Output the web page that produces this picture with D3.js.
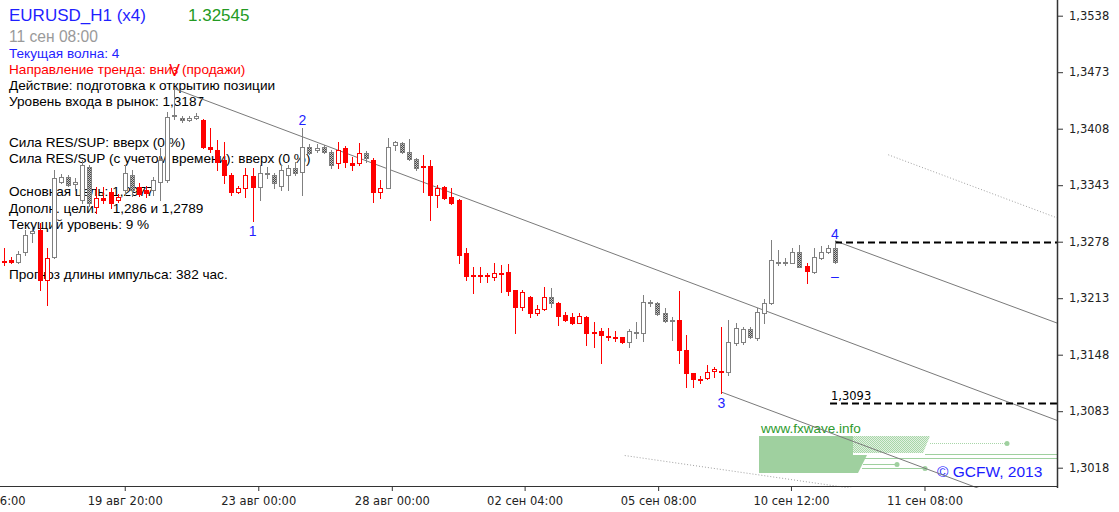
<!DOCTYPE html>
<html>
<head>
<meta charset="utf-8">
<script src="https://cdn.jsdelivr.net/npm/d3@7"></script>
<style>
  body { margin: 0; background: #fff; }
  svg { display: block; font-family: Arial, "Liberation Sans", sans-serif; }
  .axis text { font-family: "DejaVu Sans", sans-serif; font-size: 11.5px; fill: #222; }
  .axis line { stroke: #333; }
</style>
</head>
<body>
<svg id="chart" width="1119" height="512"></svg>
<script>
// EURUSD 4h bars (bar index 0..117)
const opens = [1.3256,1.3257,1.3255,1.3266,1.3288,1.3292,1.3234,1.3260,1.3347,1.3353,
  1.3344,1.3326,1.3364,1.3318,1.3328,1.3335,1.3326,1.3338,1.3355,1.3341,
  1.3338,1.3338,1.3347,1.3349,1.3423,1.3420,1.3418,1.3420,1.3418,1.3387,
  1.3384,1.3372,1.3355,1.3335,1.3340,1.3354,1.3341,1.3356,1.3355,1.3342,
  1.3355,1.3363,1.3358,1.3387,1.3384,1.3387,1.3381,1.3369,1.3386,1.3369,
  1.3369,1.3380,1.3372,1.3335,1.3340,1.3389,1.3392,1.3381,1.3373,1.3365,
  1.3365,1.3332,1.3341,1.3330,1.3326,1.3265,1.3240,1.3240,1.3240,1.3237,
  1.3242,1.3243,1.3222,1.3203,1.3214,1.3196,1.3201,1.3214,1.3208,1.3194,
  1.3191,1.3185,1.3191,1.3174,1.3175,1.3170,1.3168,1.3168,1.3163,1.3173,
  1.3173,1.3208,1.3208,1.3196,1.3188,1.3188,1.3153,1.3127,1.3120,1.3121,
  1.3129,1.3129,1.3128,1.3162,1.3163,1.3177,1.3167,1.3196,1.3208,1.3254,
  1.3254,1.3254,1.3266,1.3250,1.3243,1.3259,1.3266,1.3271];
const highs = [1.3271,1.3260,1.3267,1.3292,1.3295,1.3300,1.3271,1.3361,1.3356,1.3355,
  1.3351,1.3372,1.3366,1.3341,1.3341,1.3340,1.3333,1.3366,1.3361,1.3346,
  1.3342,1.3353,1.3386,1.3427,1.3454,1.3423,1.3423,1.3426,1.3419,1.3409,
  1.3395,1.3393,1.3357,1.3342,1.3363,1.3363,1.3366,1.3364,1.3357,1.3366,
  1.3366,1.3370,1.3409,1.3390,1.3390,1.3389,1.3384,1.3393,1.3388,1.3376,
  1.3392,1.3382,1.3374,1.3349,1.3397,1.3394,1.3393,1.3396,1.3374,1.3378,
  1.3372,1.3343,1.3342,1.3340,1.3327,1.3271,1.3249,1.3249,1.3242,1.3254,
  1.3251,1.3252,1.3222,1.3222,1.3216,1.3205,1.3226,1.3225,1.3209,1.3197,
  1.3196,1.3196,1.3193,1.3186,1.3179,1.3179,1.3175,1.3168,1.3178,1.3186,
  1.3217,1.3211,1.3209,1.3202,1.3191,1.3221,1.3171,1.3127,1.3124,1.3136,
  1.3134,1.3180,1.3188,1.3184,1.3180,1.3180,1.3202,1.3212,1.3280,1.3269,
  1.3259,1.3271,1.3274,1.3254,1.3271,1.3273,1.3274,1.3278];
const lows = [1.3251,1.3254,1.3254,1.3263,1.3278,1.3223,1.3205,1.3259,1.3346,1.3342,
  1.3338,1.3323,1.3319,1.3311,1.3323,1.3317,1.3324,1.3332,1.3331,1.3331,
  1.3330,1.3332,1.3326,1.3347,1.3419,1.3416,1.3417,1.3419,1.3386,1.3381,
  1.3361,1.3346,1.3332,1.3334,1.3330,1.3302,1.3326,1.3351,1.3340,1.3338,
  1.3338,1.3355,1.3332,1.3379,1.3381,1.3380,1.3363,1.3363,1.3364,1.3361,
  1.3366,1.3370,1.3324,1.3328,1.3340,1.3384,1.3380,1.3372,1.3361,1.3335,
  1.3303,1.3318,1.3327,1.3321,1.3254,1.3234,1.3219,1.3232,1.3232,1.3234,
  1.3220,1.3217,1.3173,1.3199,1.3191,1.3194,1.3199,1.3203,1.3182,1.3187,
  1.3183,1.3185,1.3159,1.3157,1.3139,1.3165,1.3164,1.3162,1.3157,1.3167,
  1.3164,1.3204,1.3194,1.3186,1.3165,1.3139,1.3111,1.3111,1.3116,1.3120,
  1.3122,1.3104,1.3125,1.3159,1.3160,1.3167,1.3165,1.3185,1.3206,1.3251,
  1.3251,1.3254,1.3249,1.3231,1.3242,1.3258,1.3265,1.3254];
const closes = [1.3255,1.3255,1.3264,1.3286,1.3290,1.3234,1.3259,1.3351,1.3353,1.3343,
  1.3347,1.3366,1.3323,1.3328,1.3326,1.3323,1.3330,1.3357,1.3338,1.3333,
  1.3334,1.3349,1.3372,1.3421,1.3424,1.3418,1.3420,1.3423,1.3387,1.3385,
  1.3370,1.3355,1.3335,1.3340,1.3355,1.3341,1.3357,1.3357,1.3346,1.3360,
  1.3363,1.3357,1.3387,1.3380,1.3386,1.3381,1.3366,1.3384,1.3370,1.3366,
  1.3380,1.3374,1.3335,1.3340,1.3387,1.3393,1.3381,1.3373,1.3363,1.3364,
  1.3332,1.3340,1.3328,1.3323,1.3263,1.3239,1.3239,1.3239,1.3239,1.3242,
  1.3241,1.3221,1.3203,1.3220,1.3196,1.3201,1.3214,1.3208,1.3193,1.3188,
  1.3185,1.3193,1.3173,1.3173,1.3171,1.3168,1.3167,1.3163,1.3175,1.3174,
  1.3209,1.3209,1.3195,1.3187,1.3187,1.3153,1.3127,1.3120,1.3119,1.3128,
  1.3132,1.3128,1.3163,1.3179,1.3177,1.3168,1.3197,1.3208,1.3257,1.3255,
  1.3255,1.3266,1.3249,1.3244,1.3260,1.3266,1.3271,1.3255];
// 1 = bar painted as sell (red), 0 = neutral (gray)
const sellSignal = [1,1,0,0,0,1,1,0,0,0, 0,0,0,1,1,1,1,0,0,1, 1,0,0,0,0,0,0,0,1,1,
  1,1,1,1,1,1,0,0,0,0, 0,0,0,0,0,0,0,1,1,1, 1,0,1,1,0,0,0,0,0,1,
  1,1,1,1,1,1,1,1,1,1, 1,1,1,1,1,1,1,0,1,1, 1,1,1,1,1,1,1,1,0,0,
  0,0,0,0,0,1,1,1,1,1, 1,1,0,0,0,0,0,0,0,0, 0,0,0,1,0,0,0,0];

// axes
const priceTicks = [1.3538,1.3473,1.3408,1.3343,1.3278,1.3213,1.3148,1.3083,1.3018];
const timeTickBars = [-2.3,17,35.8,54.6,73.3,92.1,110.8,129.6];
const timeLabels = ["16 авг 16:00","19 авг 20:00","23 авг 00:00","28 авг 00:00",
  "02 сен 04:00","05 сен 08:00","10 сен 12:00","11 сен 08:00"];

// wave marks
const waveBars = [24,35,42,101,117];
const waveNames = ["V","1","2","3","4"];
const waveAt = ["high","low","high","low","high"];

// channel lines: [bar, price] pairs
const lineFromV = [[24,1.3454],[148.4,1.3072]];
const lineFrom4 = [[117,1.3279],[148.4,1.3184]];
const lineFrom3 = [[101,1.3105],[148.4,1.2960]];
const dotUpper = [[124.5,1.3378],[148.4,1.3305]];
const dotLower = [[87.4,1.3032],[148.4,1.2960]];

// levels
const waveLevel = {bar: 117, price: 1.3278};
const targetLevel = {bar: 116.3, price: 1.3093};

const symbolName = "EURUSD_H1 (x4)";
const lastPrice = "1.32545";
const barTime = "11 сен 08:00";
const infoLines = [
  "Текущая волна: 4",
  "Направление тренда: вниз (продажи)",
  "Действие: подготовка к открытию позиции",
  "Уровень входа в рынок: 1,3187",
  "Сила RES/SUP: вверх (0 %)",
  "Сила RES/SUP (с учетом времени): вверх (0 %)",
  "Основная цель: 1,2977",
  "Дополн. цели:    1,286 и 1,2789",
  "Текущий уровень: 9 %",
  "Прогноз длины импульса: 382 час."
];

const W = 1119, H = 512;
const plotRight = 1057, plotBottom = 486;

const svg = d3.select("#chart");

const x = d3.scaleLinear().domain([0, 117]).range([4, 835]);
const y = d3.scaleLinear().domain([1.3018, 1.3538]).range([467.7, 15.7]);

const defs = svg.append("defs");
defs.append("clipPath").attr("id", "plot")
  .append("rect").attr("x", 0).attr("y", 0).attr("width", plotRight).attr("height", plotBottom + 2);

let hatch = defs.append("pattern").attr("id", "hatch")
  .attr("width", 2).attr("height", 2).attr("patternUnits", "userSpaceOnUse");
hatch.append("rect").attr("width", 2).attr("height", 2).attr("fill", "#c4c4c4");
hatch.append("rect").attr("width", 1).attr("height", 1).attr("fill", "#4a4a4a");
hatch.append("rect").attr("x", 1).attr("y", 1).attr("width", 1).attr("height", 1).attr("fill", "#4a4a4a");

let light = defs.append("pattern").attr("id", "lightHatch")
  .attr("width", 2).attr("height", 2).attr("patternUnits", "userSpaceOnUse");
light.append("rect").attr("width", 2).attr("height", 2).attr("fill", "#e2f1e2");
light.append("rect").attr("width", 1).attr("height", 1).attr("fill", "#a8d6a8");
light.append("rect").attr("x", 1).attr("y", 1).attr("width", 1).attr("height", 1).attr("fill", "#a8d6a8");

// info text (drawn first, candles go over it like in the terminal)
const info = svg.append("g").attr("class", "info");
info.append("text").attr("x", 9).attr("y", 21).attr("font-size", 17)
  .attr("fill", "#1f1fff").text(symbolName);
info.append("text").attr("x", 188).attr("y", 21).attr("font-size", 17)
  .attr("fill", "#239a23").text(lastPrice);
info.append("text").attr("x", 9).attr("y", 42).attr("font-size", 15.6)
  .attr("fill", "#9a9a9a").text(barTime);

const infoY = [57.5, 73.5, 90, 106, 146.5, 163, 196, 212.5, 229, 279];
const infoColor = ["#1f1fff", "#ff0000", "#000", "#000", "#000", "#000", "#000", "#000", "#000", "#000"];
info.selectAll(".line")
  .data(infoLines).enter()
  .append("text")
  .attr("class", "line")
  .attr("x", 9)
  .attr("y", (d, i) => infoY[i])
  .attr("font-size", 13.6)
  .attr("fill", (d, i) => infoColor[i])
  .style("white-space", "pre")
  .attr("xml:space", "preserve")
  .text(d => d);

// watermark
const wm = svg.append("g").attr("class", "watermark");
wm.append("polygon")
  .attr("points", "759,436 853,436 853,455 867,455 858,473 759,473")
  .attr("fill", "#9fd09f");
wm.append("polygon")
  .attr("points", "853,436 930,436 923,453 853,453")
  .attr("fill", "url(#lightHatch)");
wm.append("line").attr("x1", 930).attr("x2", 1007).attr("y1", 443.5).attr("y2", 443.5)
  .attr("stroke", "#a8d6a8").attr("stroke-dasharray", "1,1");
wm.append("line").attr("x1", 925).attr("x2", plotRight).attr("y1", 454.5).attr("y2", 454.5)
  .attr("stroke", "#9fd09f");
wm.append("line").attr("x1", 863).attr("x2", plotRight).attr("y1", 458.5).attr("y2", 458.5)
  .attr("stroke", "#9fd09f");
wm.append("line").attr("x1", 863).attr("x2", 897).attr("y1", 464.5).attr("y2", 464.5)
  .attr("stroke", "#9fd09f");
wm.append("line").attr("x1", 862).attr("x2", 925).attr("y1", 468.5).attr("y2", 468.5)
  .attr("stroke", "#9fd09f");
[[1007, 443.5], [897, 464.5], [925, 468.5]].forEach(p => {
  wm.append("circle").attr("cx", p[0]).attr("cy", p[1]).attr("r", 2.5).attr("fill", "#9fd09f");
});
wm.append("text").attr("x", 761).attr("y", 433).attr("font-size", 13.5)
  .attr("fill", "#2e9a2e").text("www.fxwave.info");
wm.append("text").attr("x", 937).attr("y", 477).attr("font-size", 15.5)
  .attr("fill", "#1c1cff").text("\u00a9 GCFW, 2013");

// chart objects
const plot = svg.append("g").attr("clip-path", "url(#plot)");

const seg = d3.line().x(d => x(d[0])).y(d => y(d[1]));
plot.append("path").datum(dotUpper).attr("d", seg)
  .attr("fill", "none").attr("stroke", "#a0a0a0").attr("stroke-dasharray", "1,2");
plot.append("path").datum(dotLower).attr("d", seg)
  .attr("fill", "none").attr("stroke", "#a0a0a0").attr("stroke-dasharray", "1,2");
[lineFromV, lineFrom4, lineFrom3].forEach(l => {
  plot.append("path").datum(l).attr("d", seg)
    .attr("fill", "none").attr("stroke", "#7a7a7a").attr("stroke-width", 1);
});

// dashed levels
[waveLevel, targetLevel].forEach(lv => {
  let yy = Math.round(y(lv.price)) + 0.5;
  plot.append("line")
    .attr("x1", x(lv.bar)).attr("x2", plotRight)
    .attr("y1", yy).attr("y2", yy)
    .attr("stroke", "#000").attr("stroke-width", 2)
    .attr("stroke-dasharray", "7,4");
});
plot.append("text")
  .attr("x", x(targetLevel.bar) + 1)
  .attr("y", y(targetLevel.price) - 3)
  .attr("font-family", "DejaVu Sans, sans-serif")
  .attr("font-size", 11.5)
  .attr("fill", "#000")
  .text(targetLevel.price.toFixed(4).replace(".", ","));

// candles
const bars = d3.range(opens.length).map(i => ({
  i: i, o: opens[i], h: highs[i], l: lows[i], c: closes[i], sell: sellSignal[i]
}));

const candle = plot.selectAll(".candle")
  .data(bars).enter()
  .append("g")
  .attr("class", "candle");

candle.append("line")
  .attr("x1", d => Math.round(x(d.i)) + 0.5)
  .attr("x2", d => Math.round(x(d.i)) + 0.5)
  .attr("y1", d => Math.round(y(d.h)))
  .attr("y2", d => Math.round(y(d.l)) + 1)
  .attr("stroke", d => d.sell ? "#ff0000" : "#808080");

candle.each(function (d) {
  let g = d3.select(this);
  let X = Math.round(x(d.i));
  let top = Math.round(y(Math.max(d.o, d.c)));
  let bot = Math.round(y(Math.min(d.o, d.c)));
  let col = d.sell ? "#ff0000" : "#808080";
  if (bot - top < 1) {
    g.append("line")
      .attr("x1", X - 2).attr("x2", X + 3)
      .attr("y1", top + 0.5).attr("y2", top + 0.5)
      .attr("stroke", col);
    return;
  }
  let up = d.c > d.o;
  let fill = up ? "#fff" : (d.sell ? "#ff0000" : "url(#hatch)");
  g.append("rect")
    .attr("x", X - 1.5)
    .attr("y", top + 0.5)
    .attr("width", 4)
    .attr("height", bot - top)
    .attr("fill", fill)
    .attr("stroke", col);
});

// wave labels
waveBars.forEach((b, k) => {
  let isHigh = waveAt[k] === "high";
  let isV = waveNames[k] === "V";
  let yy = isHigh ? y(highs[b]) - (isV ? 13 : 3) : y(lows[b]) + 15;
  plot.append("text")
    .attr("x", x(b))
    .attr("y", yy)
    .attr("text-anchor", "middle")
    .attr("font-size", isV ? 16 : 14)
    .attr("fill", isV ? "#ff0000" : "#1f1fff")
    .text(waveNames[k]);
});
plot.append("text")
  .attr("x", x(117))
  .attr("y", y(lows[117]) + 18)
  .attr("text-anchor", "middle")
  .attr("font-size", 14)
  .attr("fill", "#1f1fff")
  .text("\u2013");

// price axis
svg.append("line")
  .attr("x1", plotRight + 0.5).attr("x2", plotRight + 0.5)
  .attr("y1", 0).attr("y2", plotBottom + 2)
  .attr("stroke", "#333").attr("stroke-width", 1.5);

svg.append("g")
  .attr("class", "axis y-axis")
  .attr("transform", "translate(" + (plotRight + 1) + ",0)")
  .call(d3.axisRight(y)
    .tickValues(priceTicks)
    .tickSize(5)
    .tickPadding(6)
    .tickFormat(d => d.toFixed(4).replace(".", ",")))
  .call(g => g.select(".domain").remove());

// time axis
svg.append("line")
  .attr("x1", 0).attr("x2", plotRight + 1)
  .attr("y1", plotBottom + 0.5).attr("y2", plotBottom + 0.5)
  .attr("stroke", "#333");

svg.append("g")
  .attr("class", "axis x-axis")
  .attr("transform", "translate(0," + (plotBottom + 1) + ")")
  .call(d3.axisBottom(x)
    .tickValues(timeTickBars)
    .tickSize(4)
    .tickPadding(6)
    .tickFormat((d, i) => timeLabels[i]))
  .call(g => g.select(".domain").remove());
</script>
</body>
</html>
